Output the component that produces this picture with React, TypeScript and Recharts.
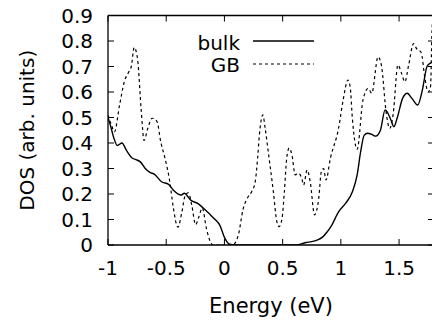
import { LineChart, Line, XAxis, YAxis } from 'recharts';

const xTicks = [-1, -0.5, 0, 0.5, 1, 1.5];
const yTicks = [0, 0.1, 0.2, 0.3, 0.4, 0.5, 0.6, 0.7, 0.8, 0.9];

// bulk (solid)
const bulkEnergy = [
  -1.0, -0.98, -0.95, -0.92, -0.88, -0.84, -0.79, -0.76, -0.72, -0.68, -0.64, -0.6,
  -0.54, -0.48, -0.44, -0.37, -0.345, -0.29, -0.23, -0.18, -0.12, -0.08, -0.04, 0.0,
  0.045, 0.09, 0.62, 0.7, 0.75, 0.8, 0.84, 0.88, 0.92, 0.98, 1.04, 1.1, 1.14, 1.17,
  1.2, 1.23, 1.26, 1.3, 1.34, 1.38, 1.4, 1.43, 1.455, 1.485, 1.53, 1.57, 1.61, 1.66,
  1.7, 1.74, 1.77, 1.8,
];
const bulkDos = [
  0.5, 0.47, 0.42, 0.39, 0.4, 0.37, 0.34, 0.335, 0.325, 0.3, 0.285, 0.277,
  0.248, 0.238, 0.216, 0.196, 0.203, 0.176, 0.163, 0.144, 0.118, 0.1, 0.078, 0.03,
  0.003, 0, 0, 0.01, 0.013, 0.02, 0.03, 0.05, 0.076, 0.13, 0.163, 0.21, 0.275, 0.366,
  0.43, 0.438, 0.435, 0.427, 0.45, 0.53, 0.52, 0.49, 0.464, 0.5, 0.575, 0.595, 0.575, 0.549,
  0.608, 0.7, 0.713, 0.72,
];

// GB (dashed)
const gbEnergy = [
  -1.0, -0.97, -0.945, -0.9, -0.86, -0.82, -0.8, -0.775, -0.745, -0.715, -0.69, -0.66,
  -0.62, -0.58, -0.545, -0.513, -0.47, -0.44, -0.4, -0.365, -0.34, -0.31, -0.28, -0.248,
  -0.22, -0.19, -0.155, -0.12, -0.1, 0.07, 0.12, 0.16, 0.205, 0.235, 0.265, 0.285,
  0.3, 0.33, 0.35, 0.38, 0.42, 0.45, 0.47, 0.495, 0.515, 0.535, 0.556, 0.58,
  0.608, 0.636, 0.665, 0.68, 0.71, 0.737, 0.774, 0.81, 0.832, 0.852, 0.872, 0.91,
  0.98, 1.02, 1.06, 1.08, 1.1, 1.14, 1.19, 1.235, 1.265, 1.32, 1.35, 1.39,
  1.42, 1.45, 1.49, 1.52, 1.55, 1.58, 1.625, 1.65, 1.69, 1.72, 1.75, 1.77,
  1.785, 1.8,
];
const gbDos = [
  0.51, 0.47, 0.444, 0.55, 0.64, 0.68, 0.7, 0.775, 0.725, 0.53, 0.41, 0.455,
  0.497, 0.485, 0.4, 0.345, 0.25, 0.15, 0.07, 0.13, 0.19, 0.205, 0.155, 0.08,
  0.11, 0.145, 0.065, 0.012, 0, 0, 0.04, 0.14, 0.19, 0.21, 0.25, 0.34,
  0.43, 0.51, 0.457, 0.353, 0.21, 0.092, 0.072, 0.105, 0.21, 0.34, 0.38, 0.353,
  0.275, 0.281, 0.26, 0.235, 0.294, 0.248, 0.118, 0.183, 0.287, 0.3, 0.255, 0.34,
  0.457, 0.569, 0.647, 0.62, 0.49, 0.375, 0.569, 0.614, 0.595, 0.738, 0.7, 0.516,
  0.457, 0.516, 0.706, 0.675, 0.64, 0.7, 0.79, 0.77, 0.755, 0.66, 0.6, 0.62,
  0.86, 0.89,
];

const bulk = bulkEnergy.map((x, i) => ({ x, y: bulkDos[i] }));
const gb = gbEnergy.map((x, i) => ({ x, y: gbDos[i] }));

const FONT = '"DejaVu Sans", sans-serif';
const tickStyle = { fontSize: 20, fill: '#000', fontFamily: FONT };
const axisLine = { stroke: '#000', strokeWidth: 1.3 };
const tickLine = { stroke: '#000', strokeWidth: 1 };
const blank = () => '';

function LegendBox() {
  return (
    <svg width={432} height={90} style={{ position: 'absolute', left: 0, top: 0, pointerEvents: 'none' }}>
      <text x={240} y={50} textAnchor="end" fontSize={20} fontFamily={FONT} fill="#000">bulk</text>
      <line x1={253} x2={314} y1={41} y2={41} stroke="#000" strokeWidth={1.4} />
      <text x={240} y={72} textAnchor="end" fontSize={20} fontFamily={FONT} fill="#000">GB</text>
      <line x1={253} x2={314} y1={64} y2={64} stroke="#000" strokeWidth={1.2} strokeDasharray="3 3" />
    </svg>
  );
}

export default function App() {
  return (
    <div style={{ position: 'absolute', left: 0, top: 0, width: 432, height: 322, overflow: 'hidden', background: '#fff' }}>
      <LineChart width={435} height={322} margin={{ top: 0, right: 0, bottom: 0, left: 0 }}>
        <XAxis xAxisId="bottom" dataKey="x" type="number" domain={[-1, 1.8]} ticks={xTicks}
          interval={0} height={77} tickSize={-6} tickMargin={22} tick={tickStyle}
          axisLine={axisLine} tickLine={tickLine} allowDataOverflow
          label={{ value: 'Energy (eV)', position: 'insideBottom', offset: 9, fontSize: 21, fontFamily: FONT, fill: '#000' }} />
        <XAxis xAxisId="top" orientation="top" dataKey="x" type="number" domain={[-1, 1.8]} ticks={xTicks}
          interval={0} height={15.5} tickSize={-6} tickFormatter={blank}
          axisLine={axisLine} tickLine={tickLine} allowDataOverflow />
        <YAxis yAxisId="left" type="number" domain={[0, 0.9]} ticks={yTicks} interval={0}
          width={108} tickSize={-6} tickMargin={21} tick={tickStyle}
          axisLine={axisLine} tickLine={tickLine} allowDataOverflow
          label={{ value: 'DOS (arb. units)', angle: -90, position: 'insideLeft', offset: 27,
            style: { textAnchor: 'middle' }, fontSize: 20, fontFamily: FONT, fill: '#000' }} />
        <YAxis yAxisId="right" orientation="right" type="number" domain={[0, 0.9]} ticks={yTicks}
          interval={0} width={1} tickSize={-6} tickFormatter={blank}
          axisLine={axisLine} tickLine={tickLine} allowDataOverflow />
        <Line xAxisId="bottom" yAxisId="left" data={bulk} dataKey="y" type="monotone" dot={false}
          stroke="#000" strokeWidth={1.4} isAnimationActive={false} />
        <Line xAxisId="bottom" yAxisId="left" data={gb} dataKey="y" type="monotone" dot={false}
          stroke="#000" strokeWidth={1.2} strokeDasharray="3 3" isAnimationActive={false} />
      </LineChart>
      <LegendBox />
    </div>
  );
}
